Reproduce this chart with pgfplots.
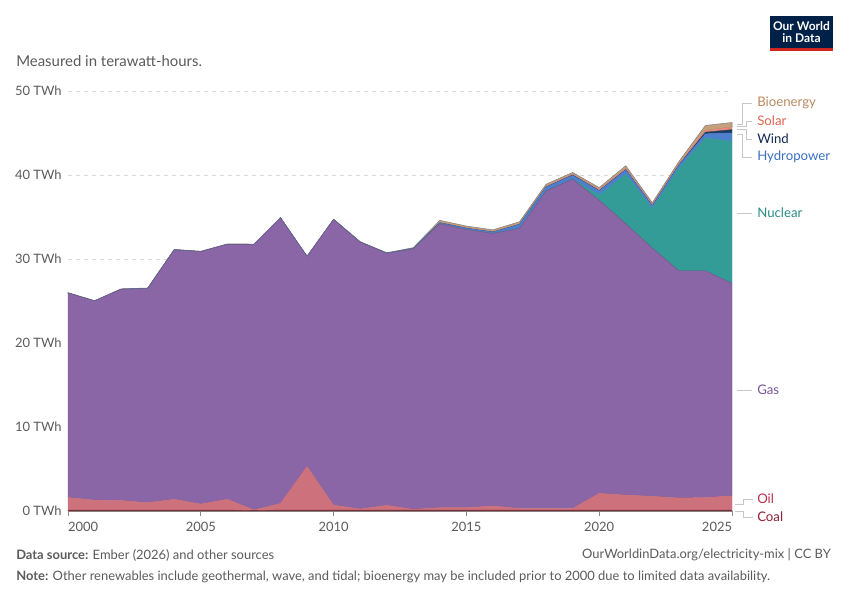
\documentclass[border=0pt]{standalone}
\usepackage{pgfplots}
\pgfplotsset{compat=1.18}
\usepackage{pgfplotstable}
\usepackage{fontspec}
\setmainfont{Lato}
\definecolor{cCoal}{HTML}{8C3A43}
\definecolor{cOil}{HTML}{CD717D}
\definecolor{cGas}{HTML}{8B66A6}
\definecolor{cNuc}{HTML}{349C96}
\definecolor{cHyd}{HTML}{4C80CC}
\definecolor{cWind}{HTML}{1D3D63}
\definecolor{cSolar}{HTML}{E98A7A}
\definecolor{cBio}{HTML}{C6A07A}
\definecolor{lCoal}{HTML}{8A2136}
\definecolor{lOil}{HTML}{B8314E}
\definecolor{lGas}{HTML}{7A559A}
\definecolor{lNuc}{HTML}{2B8C86}
\definecolor{lHyd}{HTML}{3B6FC1}
\definecolor{lWind}{HTML}{102A52}
\definecolor{lSolar}{HTML}{E0644F}
\definecolor{lBio}{HTML}{B98A5F}
\definecolor{txt}{HTML}{5B5B5B}
\definecolor{owid}{HTML}{002147}
\definecolor{owidred}{HTML}{CE261E}
\pgfplotstableread{
year coal oil gas nuclear hydro wind solar bio
2000 0.1 1.5 24.35 0 0 0 0 0.05
2001 0.1 1.2 23.7 0 0 0 0 0.05
2002 0.1 1.15 25.15 0 0 0 0 0.05
2003 0.1 0.9 25.5 0 0 0 0 0.05
2004 0.1 1.3 29.7 0 0 0 0 0.05
2005 0.1 0.73 30.05 0 0 0 0 0.05
2006 0.1 1.3 30.35 0 0 0 0 0.05
2007 0.08 0.05 31.6 0 0 0 0 0.05
2008 0.1 0.8 34.0 0 0 0 0 0.05
2009 0.1 5.2 25.0 0 0 0 0 0.05
2010 0.1 0.6 34.0 0 0 0 0 0.05
2011 0.1 0.14 31.76 0 0.02 0 0 0.05
2012 0.1 0.58 30.0 0 0.02 0 0 0.05
2013 0.1 0.1 31.0 0 0.05 0 0 0.1
2014 0.1 0.3 33.8 0 0.1 0.02 0.03 0.25
2015 0.1 0.3 33.1 0 0.15 0.02 0.05 0.2
2016 0.1 0.5 32.45 0 0.15 0.02 0.05 0.2
2017 0.1 0.2 33.35 0 0.45 0.03 0.05 0.25
2018 0.1 0.2 37.8 0 0.45 0.03 0.07 0.25
2019 0.1 0.2 39.2 0 0.45 0.05 0.1 0.2
2020 0.1 2.0 34.9 0.6 0.5 0.05 0.1 0.25
2021 0.1 1.8 32.3 5.9 0.5 0.05 0.15 0.3
2022 0.1 1.65 29.55 4.7 0.3 0.05 0.1 0.25
2023 0.1 1.45 27.05 12.2 0.35 0.05 0.1 0.3
2024 0.1 1.5 27.0 15.8 0.5 0.2 0.2 0.6
2025 0.1 1.7 25.3 16.9 1.0 0.4 0.3 0.55
}\data
\begin{document}
\begin{tikzpicture}
\path[fill=white,use as bounding box] (0,0) rectangle (637.5pt,450pt);
\begin{axis}[
  at={(51pt,66.75pt)}, anchor=south west,
  scale only axis, width=498pt, height=315pt,
  xmin=2000, xmax=2025, ymin=0, ymax=50,
  stack plots=y,
  axis lines*=left,
  y axis line style={draw=none},
  x axis line style={draw=black!45, line width=0.6pt},
  xtick={2000,2005,2010,2015,2020,2025},
  xticklabels={\makebox[0pt][l]{2000},2005,2010,2015,2020,\makebox[0pt][r]{2025}},
  ytick={0,10,20,30,40,50},
  yticklabel={\pgfmathprintnumber{\tick} TWh},
  /pgf/number format/assume math mode=true,
  ymajorgrids,
  grid style={draw=black!15, dash pattern=on 3pt off 3pt, line width=0.6pt},
  tick label style={font=\fontsize{9.7}{11}\selectfont, text=txt},
  xticklabel style={yshift=-1pt},
  yticklabel style={xshift=2.5pt},
  x tick style={draw=black!45, line width=0.6pt},
  y tick style={draw=none},
  tick align=outside,
  major tick length=3.75pt,
  axis on top=false,
  clip=false,
]
\addplot[fill=cCoal, draw=cCoal!80!black, line width=0.3pt] table[x=year,y=coal] {\data} \closedcycle;
\addplot[fill=cOil, draw=cOil, line width=0.3pt] table[x=year,y=oil] {\data} \closedcycle;
\addplot[fill=cGas, draw=cGas!80!black, line width=0.3pt] table[x=year,y=gas] {\data} \closedcycle;
\addplot[fill=cNuc, draw=cNuc, line width=0.3pt] table[x=year,y=nuclear] {\data} \closedcycle;
\addplot[fill=cHyd, draw=cHyd, line width=0.3pt] table[x=year,y=hydro] {\data} \closedcycle;
\addplot[fill=cWind, draw=cWind, line width=0.3pt] table[x=year,y=wind] {\data} \closedcycle;
\addplot[fill=cSolar, draw=cSolar, line width=0.3pt] table[x=year,y=solar] {\data} \closedcycle;
\addplot[fill=cBio, draw=black!50, line width=0.4pt] table[x=year,y=bio] {\data} \closedcycle;
\end{axis}
\begin{scope}[x=0.75pt,y=-0.75pt,yshift=450pt]
  % header
  \node[anchor=west, text=txt, font=\fontsize{11.2}{13}\selectfont, inner sep=0] at (16,61) {Measured in terawatt-hours.};
  % logo
  \fill[owid] (770,16) rectangle (833,48);
  \fill[owidred] (770,48) rectangle (833,51);
  \node[text=white, font=\fontsize{9}{9.5}\selectfont\bfseries, align=center, inner sep=0] at (801.5,32) {Our World\\in Data};
  % connectors
  \begin{scope}[draw=black!22, line width=0.6pt]
  \draw (737,124) -- (742,124) -- (742,103) -- (752,103);
  \draw (737,126.5) -- (746,126.5) -- (746,121) -- (752,121);
  \draw (737,129.5) -- (746,129.5) -- (746,139) -- (752,139);
  \draw (737,134) -- (742,134) -- (742,157) -- (752,157);
  \draw (737,213) -- (752,213);
  \draw (737,390) -- (752,390);
  \draw (735,504) -- (743,504) -- (743,499) -- (753,499);
  \draw (735,511) -- (743,511) -- (743,517) -- (753,517);
  \end{scope}
  \begin{scope}[font=\fontsize{9.9}{11}\selectfont]
  \node[anchor=west, text=lBio, inner sep=0] at (757,103) {Bioenergy};
  \node[anchor=west, text=lSolar, inner sep=0] at (757,121) {Solar};
  \node[anchor=west, text=lWind, inner sep=0] at (757,139) {Wind};
  \node[anchor=west, text=lHyd, inner sep=0] at (757,157) {Hydropower};
  \node[anchor=west, text=lNuc, inner sep=0] at (757,213) {Nuclear};
  \node[anchor=west, text=lGas, inner sep=0] at (757,390) {Gas};
  \node[anchor=west, text=lOil, inner sep=0] at (757,499) {Oil};
  \node[anchor=west, text=lCoal, inner sep=0] at (757,517) {Coal};
  \end{scope}
  % footer
  \begin{scope}[font=\fontsize{9.7}{11}\selectfont, text=txt]
  \node[anchor=west, inner sep=0] at (16,555) {\textbf{Data source:} Ember (2026) and other sources};
  \node[anchor=east, inner sep=0] at (831,555) {OurWorldinData.org/electricity-mix | CC BY};
  \node[anchor=west, inner sep=0] at (16,577) {\textbf{Note:} Other renewables include geothermal, wave, and tidal; bioenergy may be included prior to 2000 due to limited data availability.};
  \end{scope}
\end{scope}
\end{tikzpicture}
\end{document}
